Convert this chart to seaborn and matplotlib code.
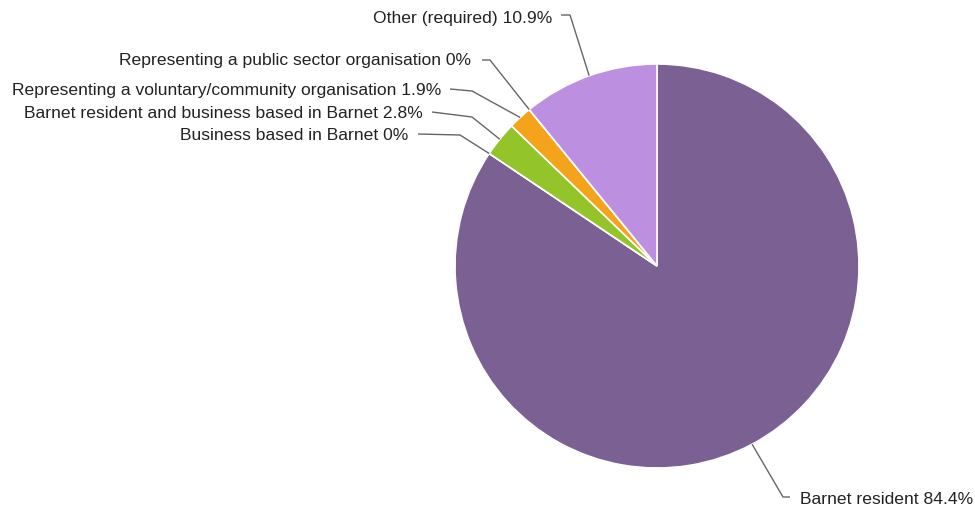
import numpy as np
import matplotlib
matplotlib.use("Agg")
import matplotlib.pyplot as plt
import seaborn as sns

# data
labels = ["Barnet resident", "Business based in Barnet",
          "Barnet resident and business based in Barnet",
          "Representing a voluntary/community organisation",
          "Representing a public sector organisation", "Other (required)"]
values = [84.4, 0, 2.8, 1.9, 0, 10.9]
pct_text = ["84.4%", "0%", "2.8%", "1.9%", "0%", "10.9%"]
colors = ["#7b6093", "#7b6093", "#93c52b", "#f4a31b", "#bd8fe0", "#bd8fe0"]

sns.set_theme(style="white")
plt.rcParams["font.family"] = ["Liberation Sans", "DejaVu Sans"]

W, H = 975, 514
fig = plt.figure(figsize=(W / 100, H / 100), dpi=100)
ax = fig.add_axes([0, 0, 1, 1])

cx, cy, r = 657, H - 266, 202
ax.pie(values, colors=colors, startangle=90, counterclock=False,
       center=(cx, cy), radius=r, normalize=True,
       wedgeprops=dict(edgecolor="white", linewidth=1.2), frame=True)
ax.set_xlim(0, W)
ax.set_ylim(0, H)
ax.set_aspect("equal")
ax.axis("off")

# label layout in pixels from top-left:
# (text x, text y, ha, elbow x, elbow y, stub x, stub y)
layout = {
    0: (800, 500, "left", 783, 497, 790, 497),
    1: (408, 136, "right", 460, 135, 418, 134),
    2: (423, 114, "right", 472, 117, 432, 112),
    3: (441, 90, "right", 472, 91, 450, 89),
    4: (471, 60, "right", 490, 60, 482, 60),
    5: (552, 18, "right", 570, 15, 561, 15),
}

total = sum(values)
start = 0.0
for i, v in enumerate(values):
    frac = v / total
    mid = (start + frac / 2) * 2 * np.pi
    start += frac
    ex = cx + r * np.sin(mid)
    ey = cy + r * np.cos(mid)
    tx, ty, ha, bx, by, sx, sy = layout[i]
    ax.plot([ex, bx, sx], [ey, H - by, H - sy], color="#666666", lw=1,
            solid_capstyle="butt")
    ax.text(tx, H - ty, f"{labels[i]} {pct_text[i]}", ha=ha, va="center",
            fontsize=12.6, color="#222222")

fig.savefig("out.png", dpi=100)
